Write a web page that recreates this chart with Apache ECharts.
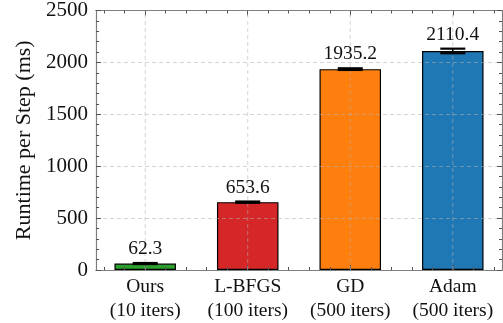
<!DOCTYPE html>
<html>
<head>
<meta charset="utf-8">
<script src="https://cdn.jsdelivr.net/npm/echarts@6/dist/echarts.min.js"></script>
<style>
html,body{margin:0;padding:0;background:#fff;}
#chart{width:503px;height:323px;}
</style>
</head>
<body>
<div id="chart"></div>
<script>
// ---- data ----
const categories = ['Ours', 'L-BFGS', 'GD', 'Adam'];
const iterLabels = ['(10 iters)', '(100 iters)', '(500 iters)', '(500 iters)'];
const runtimes = [62.3, 653.6, 1935.2, 2110.4];
const errors = [5, 6, 8, 22];
const valueLabels = ['62.3', '653.6', '1935.2', '2110.4'];
const barColors = ['#2ca02c', '#d62728', '#ff7f0e', '#1f77b4'];
const yTickLabels = [0, 500, 1000, 1500, 2000, 2500];
const xPositions = [0, 1, 2, 3];

// ---- layout ----
const FONT = 'Liberation Serif';
const grid = {left: 96, right: 1, top: 9, bottom: 53};
const xMin = -0.48, xMax = 3.48;
const yMin = 0, yMax = 2500;
const chartW = 503;
const pxPerUnit = (chartW - grid.left - grid.right) / (xMax - xMin);
const barW = 0.6 * pxPerUnit;
const minorX = [];
for (let k = -2; k <= 17; k++) { const v = +(k * 0.2).toFixed(2); if (Math.abs(v - Math.round(v)) > 1e-6 && v > xMin && v < xMax) minorX.push(v); }

const frameColor = '#808080';
const tickColor = '#555';
const gridColor = 'rgba(176,176,176,0.55)';
const gridLine = {show: true, lineStyle: {color: gridColor, type: [4, 3], width: 1}};

function xAxisBase(pos, major, showLabel) {
  return {
    type: 'value', position: pos, min: xMin, max: xMax, z: 3,
    axisLine: {show: true, onZero: false, lineStyle: {color: frameColor, width: 1.2}},
    axisTick: {show: true, inside: true, length: major ? 5 : 3, customValues: major ? xPositions : minorX,
      lineStyle: {color: tickColor, width: 1}},
    axisLabel: {show: showLabel, customValues: xPositions, margin: 5,
      formatter: function (v) { const i = Math.round(v); return categories[i] + '\n' + iterLabels[i]; },
      fontFamily: FONT, fontSize: 19.5, color: '#111', lineHeight: 24},
    splitLine: {show: false}
  };
}

const chart = echarts.init(document.getElementById('chart'), null, {renderer: 'canvas'});
const option = {
  animation: false,
  backgroundColor: '#fff',
  grid: grid,
  xAxis: [
    xAxisBase('bottom', true, true),
    xAxisBase('bottom', false, false),
    xAxisBase('top', true, false),
    xAxisBase('top', false, false)
  ],
  yAxis: [0, 1].map(function (i) {
    return {
      type: 'value', min: yMin, max: yMax, interval: 500, position: i === 0 ? 'left' : 'right', z: 3,
      name: i === 0 ? 'Runtime per Step (ms)' : '', nameLocation: 'middle', nameRotate: 90, nameGap: 60,
      nameTextStyle: {fontFamily: FONT, fontSize: 22, color: '#111'},
      axisLine: {show: true, onZero: false, lineStyle: {color: frameColor, width: 1.2}},
      axisTick: {show: true, inside: true, length: 5, lineStyle: {color: tickColor, width: 1}},
      minorTick: {show: true, splitNumber: 5, length: 3, lineStyle: {color: tickColor, width: 1}},
      axisLabel: {show: i === 0, margin: 8, fontFamily: FONT, fontSize: 21, color: '#111',
        formatter: function (v) { return String(v); }},
      splitLine: i === 0 ? gridLine : {show: false}
    };
  }),
  series: [
    {
      type: 'bar', xAxisIndex: 0, yAxisIndex: 0, barWidth: barW, z: 2,
      data: runtimes.map(function (v, i) {
        return {value: [xPositions[i], v], itemStyle: {color: barColors[i], borderColor: '#000', borderWidth: 1.2}};
      })
    },
    {
      type: 'custom', xAxisIndex: 0, yAxisIndex: 0, z: 5,
      data: runtimes.map(function (v, i) { return [xPositions[i], v, errors[i], i]; }),
      renderItem: function (params, api) {
        const x = api.value(0), y = api.value(1), e = api.value(2), idx = api.value(3);
        const top = api.coord([x, y + e]);
        const bot = api.coord([x, y - e]);
        const g0 = api.coord([x, yMin]);
        const g1 = api.coord([x, yMax]);
        const half = 12.5;
        const st = {stroke: '#000', lineWidth: 2.2};
        return {
          type: 'group',
          children: [
            {type: 'line', z2: 0, shape: {x1: g0[0], y1: g0[1], x2: g1[0], y2: g1[1]},
              style: {stroke: gridColor, lineWidth: 1, lineDash: [4, 3]}},
            {type: 'line', z2: 1, shape: {x1: top[0], y1: top[1], x2: bot[0], y2: bot[1]}, style: {stroke: '#000', lineWidth: 1.5}},
            {type: 'line', z2: 1, shape: {x1: top[0] - half, y1: top[1], x2: top[0] + half, y2: top[1]}, style: st},
            {type: 'line', z2: 1, shape: {x1: bot[0] - half, y1: bot[1], x2: bot[0] + half, y2: bot[1]}, style: st},
            {type: 'text', z2: 2, x: top[0], y: top[1] - 4,
              style: {text: valueLabels[idx], fontFamily: FONT, fontSize: 19.5, fill: '#111',
                textAlign: 'center', textVerticalAlign: 'bottom', backgroundColor: 'transparent'}}
          ]
        };
      }
    }
  ]
};
chart.setOption(option);
</script>
</body>
</html>
